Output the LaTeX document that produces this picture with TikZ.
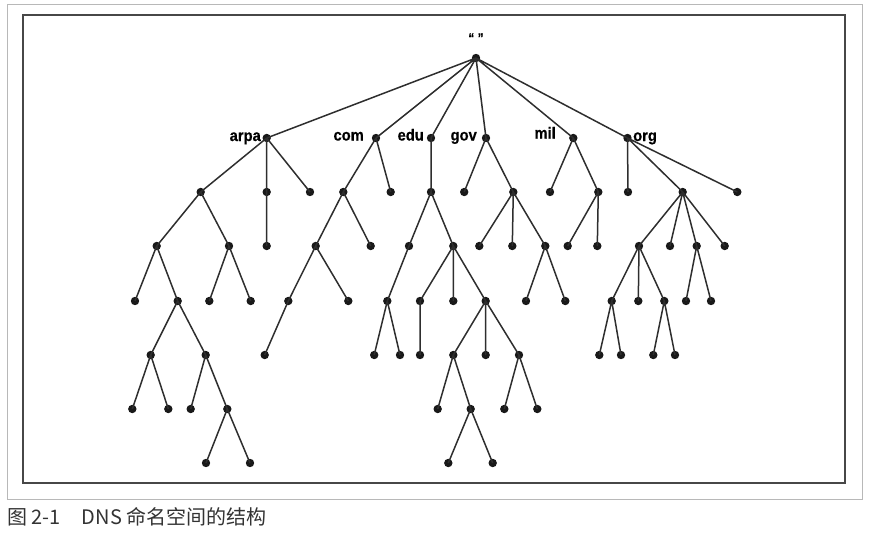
\documentclass[tikz,border=0pt]{standalone}
\usepackage{fontspec}
\usepackage{tikz}
\usetikzlibrary{positioning}
\newfontfamily\lblfont[FakeStretch=0.92,FakeBold=0.6]{Liberation Sans}
\newfontfamily\cjk{Noto Sans CJK SC}

\begin{document}
\begin{tikzpicture}[
  x=1pt,y=-1pt,
  dot/.style={circle,fill=black!90,minimum size=8.4pt,inner sep=0pt},
  lbl/.style={font=\lblfont\bfseries\fontsize{16}{16}\selectfont,inner sep=0pt},
  edge/.style={draw=black!82,line width=1.5pt}
]
\useasboundingbox (0,0) rectangle (876,535);
% frames
\draw[black!28,line width=0.8pt] (7,4) rectangle (862,499);
\draw[black!72,line width=1.6pt] (23,15) rectangle (845,483);

% root and top level domains
\node[dot] (root) at (476,58) {};
\node[lbl,font=\lblfont\bfseries\fontsize{13}{13}\selectfont,above=11pt of root] (rootlbl) {“ ”};
\node[dot] (arpa) at (266.7,138) {};
\node[dot] (com)  at (376,138) {};
\node[dot] (edu)  at (431,138) {};
\node[dot] (gov)  at (486,138) {};
\node[dot] (mil)  at (573.3,138) {};
\node[dot] (org)  at (627.5,138) {};
\node[lbl,anchor=base east] (arpalbl) at (261,141) {arpa};
\node[lbl,anchor=base east] (comlbl) at (364,140.5) {com};
\node[lbl,anchor=base east] (edulbl) at (424,140.5) {edu};
\node[lbl,anchor=base east] (govlbl) at (477,140.5) {gov};
\node[lbl,anchor=base east] (millbl) at (556,138.5) {mil};
\node[lbl,anchor=base west] (orglbl) at (633,141) {org};

% arpa
\node[dot] (ar1) at (200.7,192) {};
\node[dot] (ar2) at (266.7,192) {};
\node[dot] (ar3) at (310,192) {};
\node[dot] (ar11) at (156.7,246) {};
\node[dot] (ar12) at (229,246) {};
\node[dot] (ar21) at (266.7,246) {};
\node[dot] (ar111) at (135,301) {};
\node[dot] (ar112) at (177.7,301) {};
\node[dot] (ar121) at (209.3,301) {};
\node[dot] (ar122) at (250.7,301) {};
\node[dot] (ar1121) at (150.7,355) {};
\node[dot] (ar1122) at (205.7,355) {};
\node[dot] (ar11211) at (132.3,409) {};
\node[dot] (ar11212) at (168.3,409) {};
\node[dot] (ar11221) at (190.7,409) {};
\node[dot] (ar11222) at (227.3,409) {};
\node[dot] (ar112221) at (206,463) {};
\node[dot] (ar112222) at (250,463) {};

% com
\node[dot] (co1) at (343.3,192) {};
\node[dot] (co2) at (390.7,192) {};
\node[dot] (co11) at (315.7,246) {};
\node[dot] (co12) at (370.7,246) {};
\node[dot] (co111) at (288.3,301) {};
\node[dot] (co112) at (348.3,301) {};
\node[dot] (co1111) at (264.7,355) {};

% edu
\node[dot] (ed1) at (431,192) {};
\node[dot] (ed11) at (409,246) {};
\node[dot] (ed12) at (453.3,246) {};
\node[dot] (ed111) at (387.3,301) {};
\node[dot] (ed121) at (420,301) {};
\node[dot] (ed122) at (453.3,301) {};
\node[dot] (ed123) at (485.7,301) {};
\node[dot] (ed1111) at (374.2,355) {};
\node[dot] (ed1112) at (400,355) {};
\node[dot] (ed1211) at (420,355) {};
\node[dot] (ed1231) at (453.3,355) {};
\node[dot] (ed1232) at (485.7,355) {};
\node[dot] (ed1233) at (519,355) {};
\node[dot] (ed12311) at (437.7,409) {};
\node[dot] (ed12312) at (470.7,409) {};
\node[dot] (ed12331) at (504.3,409) {};
\node[dot] (ed12332) at (537.3,409) {};
\node[dot] (ed123121) at (448.3,463) {};
\node[dot] (ed123122) at (492.7,463) {};

% gov
\node[dot] (go1) at (464.2,192) {};
\node[dot] (go2) at (513.3,192) {};
\node[dot] (go21) at (479.3,246) {};
\node[dot] (go22) at (512.3,246) {};
\node[dot] (go23) at (545.3,246) {};
\node[dot] (go231) at (526,301) {};
\node[dot] (go232) at (565.3,301) {};

% mil
\node[dot] (mi1) at (550,192) {};
\node[dot] (mi2) at (598.3,192) {};
\node[dot] (mi21) at (567.7,246) {};
\node[dot] (mi22) at (597.3,246) {};

% org
\node[dot] (or1) at (628,192) {};
\node[dot] (or2) at (682.7,192) {};
\node[dot] (or3) at (737.3,192) {};
\node[dot] (or21) at (639,246) {};
\node[dot] (or22) at (670,246) {};
\node[dot] (or23) at (696.7,246) {};
\node[dot] (or24) at (724.7,246) {};
\node[dot] (or211) at (611.7,301) {};
\node[dot] (or212) at (638.3,301) {};
\node[dot] (or213) at (664.3,301) {};
\node[dot] (or231) at (686,301) {};
\node[dot] (or232) at (711,301) {};
\node[dot] (or2111) at (599.3,355) {};
\node[dot] (or2112) at (621,355) {};
\node[dot] (or2131) at (653.3,355) {};
\node[dot] (or2132) at (675,355) {};

% edges
\path[edge] (root.center) -- (arpa.center) (root.center) -- (com.center)
  (root.center) -- (edu.center) (root.center) -- (gov.center)
  (root.center) -- (mil.center) (root.center) -- (org.center);
\path[edge] (arpa.center) -- (ar1.center) (arpa.center) -- (ar2.center) (arpa.center) -- (ar3.center)
  (ar1.center) -- (ar11.center) (ar1.center) -- (ar12.center) (ar2.center) -- (ar21.center)
  (ar11.center) -- (ar111.center) (ar11.center) -- (ar112.center)
  (ar12.center) -- (ar121.center) (ar12.center) -- (ar122.center)
  (ar112.center) -- (ar1121.center) (ar112.center) -- (ar1122.center)
  (ar1121.center) -- (ar11211.center) (ar1121.center) -- (ar11212.center)
  (ar1122.center) -- (ar11221.center) (ar1122.center) -- (ar11222.center)
  (ar11222.center) -- (ar112221.center) (ar11222.center) -- (ar112222.center);
\path[edge] (com.center) -- (co1.center) (com.center) -- (co2.center)
  (co1.center) -- (co11.center) (co1.center) -- (co12.center)
  (co11.center) -- (co111.center) (co11.center) -- (co112.center)
  (co111.center) -- (co1111.center);
\path[edge] (edu.center) -- (ed1.center)
  (ed1.center) -- (ed11.center) (ed1.center) -- (ed12.center)
  (ed11.center) -- (ed111.center)
  (ed12.center) -- (ed121.center) (ed12.center) -- (ed122.center) (ed12.center) -- (ed123.center)
  (ed111.center) -- (ed1111.center) (ed111.center) -- (ed1112.center)
  (ed121.center) -- (ed1211.center)
  (ed123.center) -- (ed1231.center) (ed123.center) -- (ed1232.center) (ed123.center) -- (ed1233.center)
  (ed1231.center) -- (ed12311.center) (ed1231.center) -- (ed12312.center)
  (ed1233.center) -- (ed12331.center) (ed1233.center) -- (ed12332.center)
  (ed12312.center) -- (ed123121.center) (ed12312.center) -- (ed123122.center);
\path[edge] (gov.center) -- (go1.center) (gov.center) -- (go2.center)
  (go2.center) -- (go21.center) (go2.center) -- (go22.center) (go2.center) -- (go23.center)
  (go23.center) -- (go231.center) (go23.center) -- (go232.center);
\path[edge] (mil.center) -- (mi1.center) (mil.center) -- (mi2.center)
  (mi2.center) -- (mi21.center) (mi2.center) -- (mi22.center);
\path[edge] (org.center) -- (or1.center) (org.center) -- (or2.center) (org.center) -- (or3.center)
  (or2.center) -- (or21.center) (or2.center) -- (or22.center) (or2.center) -- (or23.center) (or2.center) -- (or24.center)
  (or21.center) -- (or211.center) (or21.center) -- (or212.center) (or21.center) -- (or213.center)
  (or23.center) -- (or231.center) (or23.center) -- (or232.center)
  (or211.center) -- (or2111.center) (or211.center) -- (or2112.center)
  (or213.center) -- (or2131.center) (or213.center) -- (or2132.center);

% caption
\node[anchor=west,inner sep=0pt,text=black!80,font=\cjk\fontsize{20}{20}\selectfont] (caption) at (7,517) {图 2-1\hspace{1.05em}DNS 命名空间的结构};
\end{tikzpicture}
\end{document}
